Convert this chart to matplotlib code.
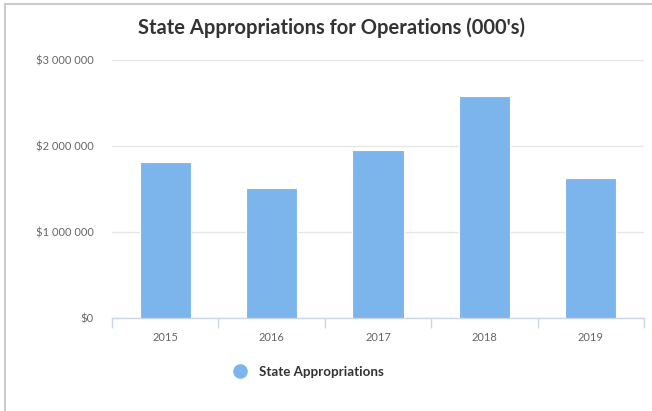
import matplotlib
matplotlib.use("Agg")
import matplotlib.pyplot as plt
from matplotlib.lines import Line2D
from matplotlib.ticker import FuncFormatter

plt.rcParams['font.family'] = ['Lato', 'DejaVu Sans']

years = ["2015", "2016", "2017", "2018", "2019"]
appropriations = [1814000, 1510000, 1953000, 2580000, 1628000]
series_name = "State Appropriations"
title = "State Appropriations for Operations (000's)"

bar_color = "#7cb5ec"
axis_color = "#ccd6eb"
grid_color = "#e6e6e6"
label_color = "#666666"
text_color = "#333333"

def money(v, pos):
    return "$" + format(int(v), ",").replace(",", " ")

fig = plt.figure(figsize=(6.52, 4.11), dpi=100)
ax = fig.add_axes([112 / 652, 93 / 411, 532 / 652, 258 / 411])

x = list(range(len(years)))
ax.bar(x, appropriations, width=0.48, color=bar_color, edgecolor="white",
       linewidth=0.8, zorder=3)

ax.set_xlim(-0.5, len(years) - 0.5)
ax.set_ylim(0, 3000000)
ax.set_yticks([0, 1000000, 2000000, 3000000])
ax.yaxis.set_major_formatter(FuncFormatter(money))
ax.grid(axis="y", color=grid_color, linewidth=1, zorder=0)
ax.set_axisbelow(True)

ax.set_xticks(x)
ax.set_xticklabels(years)
ax.set_xticks([i - 0.5 for i in range(len(years) + 1)], minor=True)
ax.tick_params(axis="x", which="major", length=0, pad=10, labelsize=8,
               labelcolor=label_color)
ax.tick_params(axis="x", which="minor", length=7.5, width=1, color=axis_color)
ax.tick_params(axis="y", length=0, pad=13, labelsize=8, labelcolor=label_color)

for side in ["top", "right", "left"]:
    ax.spines[side].set_visible(False)
ax.spines["bottom"].set_color(axis_color)
ax.spines["bottom"].set_linewidth(1)

fig.text(332 / 652, 1 - 28 / 411, title, ha="center", va="center",
         fontsize=14.5, fontweight="bold", color=text_color)

handle = Line2D([], [], linestyle="none", marker="o", markersize=9.5,
                markerfacecolor=bar_color, markeredgecolor=bar_color)
leg = fig.legend([handle], [series_name], loc="center",
                 bbox_to_anchor=(305 / 652, 1 - 372 / 411), frameon=False,
                 handletextpad=0.45, prop={"size": 9.6, "weight": "bold"})
for t in leg.get_texts():
    t.set_color(text_color)

# outer frame lines (top and left)
fig.add_artist(Line2D([5 / 652, 1], [1 - 4 / 411, 1 - 4 / 411],
                      transform=fig.transFigure, color="#cccccc", linewidth=1.5))
fig.add_artist(Line2D([5 / 652, 5 / 652], [0, 1 - 4 / 411],
                      transform=fig.transFigure, color="#cccccc", linewidth=1.5))

fig.savefig("out.png", dpi=100)
